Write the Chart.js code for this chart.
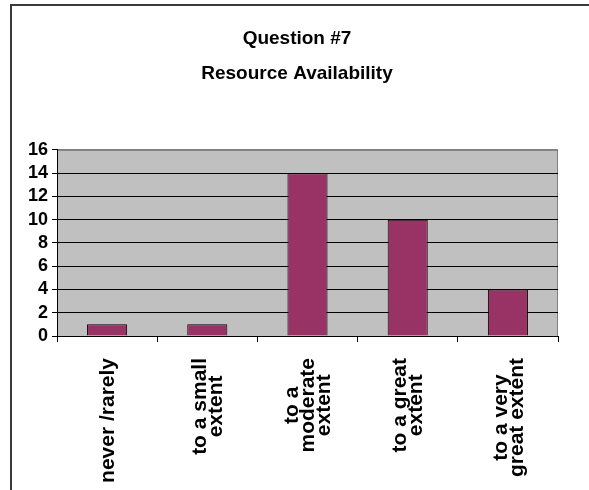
<!DOCTYPE html>
<html>
<head>
<meta charset="utf-8">
<title>Question #7 – Resource Availability</title>
<script src="https://cdn.jsdelivr.net/npm/chart.js@4/dist/chart.umd.min.js"></script>
<style>
  html, body { margin: 0; padding: 0; background: #ffffff; }
  canvas { display: block; }
</style>
</head>
<body>
<canvas id="chart" width="589" height="490"></canvas>
<script>
// Survey answers, one entry per response category (lines of each axis label)
const categories = [
  ['never /rarely'],
  ['to a small', 'extent'],
  ['to a', 'moderate', 'extent'],
  ['to a great', 'extent'],
  ['to a very', 'great extent']
];
// Number of respondents per category
const counts = [1, 1, 14, 10, 4];
// Value axis tick labels
const yTicks = [0, 2, 4, 6, 8, 10, 12, 14, 16];
const titleLines = ['Question #7', 'Resource Availability'];

const FONT = '"Liberation Sans", Arial, Helvetica, sans-serif';

// White page, chart frame and grey plot background, drawn under the scales
const backdrop = {
  id: 'backdrop',
  beforeDraw(chart) {
    const { ctx, chartArea: a } = chart;
    ctx.save();
    ctx.fillStyle = '#ffffff';
    ctx.fillRect(0, 0, chart.width, chart.height);
    ctx.strokeStyle = '#3a3a3a';
    ctx.lineWidth = 2;
    ctx.strokeRect(11, 5, chart.width + 20, chart.height + 20);
    ctx.fillStyle = '#c0c0c0';
    ctx.fillRect(a.left, a.top, a.right - a.left, a.bottom - a.top);
    ctx.strokeStyle = '#808080';
    ctx.lineWidth = 1;
    ctx.strokeRect(a.left + 0.5, a.top + 0.5, a.right - a.left - 1, a.bottom - a.top);
    ctx.restore();
  }
};

// Rotated category labels, each block of lines centred on its category
const categoryLabels = {
  id: 'categoryLabels',
  afterDraw(chart) {
    const { ctx } = chart;
    const xs = chart.scales.x;
    const lineGap = 16;
    ctx.save();
    ctx.font = 'bold 21px ' + FONT;
    ctx.fillStyle = '#000000';
    ctx.textAlign = 'center';
    ctx.textBaseline = 'middle';
    categories.forEach((lines, i) => {
      const cx = xs.getPixelForValue(i) + 1;
      const maxW = Math.max(...lines.map(l => ctx.measureText(l).width));
      const cy = xs.top + 22 + maxW / 2;
      lines.forEach((line, j) => {
        const x = cx + (j - (lines.length - 1) / 2) * lineGap;
        ctx.save();
        ctx.translate(x, cy);
        ctx.rotate(-Math.PI / 2);
        ctx.fillText(line, 0, 0);
        ctx.restore();
      });
    });
    ctx.restore();
  }
};

new Chart(document.getElementById('chart'), {
  type: 'bar',
  data: {
    labels: categories.map(c => c.join(' ')),
    datasets: [{
      label: 'Responses',
      data: counts,
      backgroundColor: '#993366',
      borderColor: '#000000',
      borderWidth: 1,
      barPercentage: 0.4,
      categoryPercentage: 1.0
    }]
  },
  options: {
    responsive: false,
    animation: false,
    devicePixelRatio: 1,
    layout: { padding: { left: 10, right: 5, top: 0, bottom: 0 } },
    plugins: {
      legend: { display: false },
      tooltip: { enabled: false },
      title: {
        display: true,
        text: titleLines,
        color: '#000000',
        font: { family: FONT, size: 19, weight: 'bold', lineHeight: 1.84 },
        padding: { top: 21, bottom: 59 }
      }
    },
    scales: {
      x: {
        offset: true,
        grid: {
          offset: true,
          drawOnChartArea: false,
          drawTicks: true,
          tickLength: 6,
          color: '#000000',
          lineWidth: 1
        },
        border: { display: true, color: '#000000', width: 1 },
        ticks: { display: false },
        afterFit(scale) { scale.height = 154; }
      },
      y: {
        min: yTicks[0],
        max: yTicks[yTicks.length - 1],
        afterBuildTicks(scale) { scale.ticks = yTicks.map(v => ({ value: v })); },
        grid: {
          color: ctx => (ctx.tick && ctx.tick.value === yTicks[yTicks.length - 1]) ? '#808080' : '#000000',
          tickColor: '#000000',
          lineWidth: 1,
          drawTicks: true,
          tickLength: 5
        },
        border: { display: true, color: '#000000', width: 1 },
        ticks: {
          autoSkip: false,
          color: '#000000',
          padding: 4,
          font: { family: FONT, size: 18, weight: 'bold', lineHeight: 1 }
        },
        afterFit(scale) { scale.width = 47; }
      },
      // empty band on the right of the plot, keeping the title centred in the frame
      rightBand: {
        type: 'linear',
        position: 'right',
        display: true,
        grid: { display: false },
        border: { display: false },
        ticks: { display: false },
        afterFit(scale) { scale.width = 26; }
      }
    }
  },
  plugins: [backdrop, categoryLabels]
});
</script>
</body>
</html>
